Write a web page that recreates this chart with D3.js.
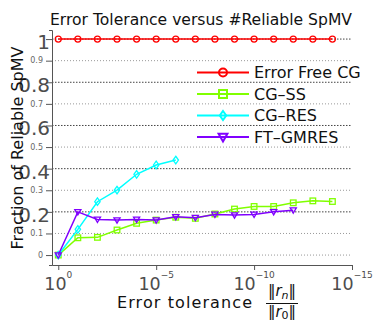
<!DOCTYPE html>
<html><head><meta charset="utf-8">
<script src="https://cdn.jsdelivr.net/npm/d3@7"></script>
<style>
body{margin:0;background:#fff;}
text{font-family:"DejaVu Sans",sans-serif;}
</style></head>
<body><svg id="c" width="373" height="320"></svg>
<script>
const exponents = [0,-1,-2,-3,-4,-5,-6,-7,-8,-9,-10,-11,-12,-13,-14];
const errorFree = [1,1,1,1,1,1,1,1,1,1,1,1,1,1,1];
const cgSS = [0,0.080,0.082,0.116,0.147,0.162,0.175,0.170,0.190,0.213,0.225,0.225,0.242,0.251,0.248];
const cgRES = [0,0.119,0.247,0.301,0.374,0.417,0.440];
const ftGMRES = [0,0.200,0.165,0.162,0.165,0.162,0.177,0.173,0.188,0.185,0.188,0.200,0.208];
const seriesNames = ["Error Free CG","CG–SS","CG–RES","FT–GMRES"];
const xTickExps = [0,-5,-10,-15];
const yMajor = [0.2,0.4,0.6,0.8,1];
const yMinor = [0,0.1,0.3,0.5,0.7,0.9];

const colors = ["#ff0000","#80ff00","#00ffff","#8000ff"];
const shapes = ["circle","square","diamond","triangle"];
const svg = d3.select("#c");
const x = d3.scaleLog().domain([Math.pow(10,0.32),1e-15]).range([52,352]);
const y = d3.scaleLinear().domain([-0.046,1.042]).range([265,30]);

// gridlines
svg.append("g").selectAll("line").data(yMinor).join("line")
  .attr("x1",52).attr("x2",352).attr("y1",d=>y(d)).attr("y2",d=>y(d))
  .attr("stroke","#999").attr("stroke-dasharray","1,2");
svg.append("g").selectAll("line").data(yMajor).join("line")
  .attr("x1",52).attr("x2",352).attr("y1",d=>y(d)).attr("y2",d=>y(d))
  .attr("stroke","#444").attr("stroke-dasharray","1.5,1.5");

// y axis
const yAxis = d3.axisLeft(y).tickValues(yMajor.concat(yMinor).sort()).tickSize(6).tickSizeOuter(3).tickFormat("");
const ya = svg.append("g").attr("transform","translate(52,0)").call(yAxis);
ya.selectAll("path,line").attr("stroke","#555");
svg.append("g").selectAll("text").data(yMajor).join("text")
  .attr("x",50).attr("y",d=>y(d)).attr("dy","0.5em").attr("text-anchor","end")
  .attr("font-size",20).attr("fill","#4d4d4d").text(d=>d3.format("")(d));
svg.append("g").selectAll("text").data(yMinor).join("text")
  .attr("x",43).attr("y",d=>y(d)).attr("dy","0.35em").attr("text-anchor","end")
  .attr("font-size",8).attr("fill","#666").text(d=>d3.format("")(d));

// x axis
const xAxis = d3.axisBottom(x).tickValues(xTickExps.map(e=>Math.pow(10,e))).tickSize(5).tickSizeOuter(0).tickFormat("");
const xa = svg.append("g").attr("transform","translate(0,265)").call(xAxis);
xa.selectAll("path,line").attr("stroke","#555");
const xl = svg.append("g").selectAll("text").data(xTickExps).join("text")
  .attr("x",e=>x(Math.pow(10,e))).attr("y",290).attr("text-anchor","middle").attr("fill","#4d4d4d");
xl.append("tspan").attr("font-size",17.5).text("10");
xl.append("tspan").attr("font-size",9).attr("dy",-12).text(e=>e===0?"0":"−"+(-e));

// shapes
function marker(g, shape, cx, cy, s, color, sw){
  let el;
  if(shape==="circle") el=g.append("circle").attr("cx",cx).attr("cy",cy).attr("r",s);
  else if(shape==="square") el=g.append("rect").attr("x",cx-s).attr("y",cy-s).attr("width",2*s).attr("height",2*s);
  else if(shape==="diamond") el=g.append("path").attr("d",`M${cx},${cy-s*1.4}L${cx+s},${cy}L${cx},${cy+s*1.4}L${cx-s},${cy}Z`);
  else el=g.append("path").attr("d",`M${cx-s*1.1},${cy-s*0.8}L${cx+s*1.1},${cy-s*0.8}L${cx},${cy+s*1.1}Z`);
  el.attr("fill","none").attr("stroke",color).attr("stroke-width",sw);
}

const allSeries = [errorFree,cgSS,cgRES,ftGMRES];
const line = d3.line().x(d=>x(Math.pow(10,d[0]))).y(d=>y(d[1]));
allSeries.forEach((vals,i)=>{
  const pts = vals.map((v,j)=>[exponents[j],v]);
  const g = svg.append("g");
  g.append("path").attr("d",line(pts)).attr("fill","none").attr("stroke",colors[i]).attr("stroke-width",1.5);
  pts.forEach(p=>marker(g,shapes[i],x(Math.pow(10,p[0])),y(p[1]),i===0?3:(i===2?2.7:2.8),colors[i],1.3));
});

// legend
const lg = svg.append("g");
seriesNames.forEach((n,i)=>{
  const cy = 72.5 + i*21.5;
  lg.append("line").attr("x1",197).attr("x2",249).attr("y1",cy).attr("y2",cy).attr("stroke",colors[i]).attr("stroke-width",2);
  marker(lg,shapes[i],223,cy,i===2?3.2:4,colors[i],2);
  lg.append("text").attr("x",254).attr("y",cy).attr("dy","0.36em").attr("font-size",16).attr("fill","#111").text(n);
});

// title
svg.append("text").attr("x",201).attr("y",25).attr("text-anchor","middle").attr("font-size",16)
  .attr("textLength",302).attr("lengthAdjust","spacingAndGlyphs").attr("fill","#111")
  .text("Error Tolerance versus #Reliable SpMV");
// y label
svg.append("text").attr("transform","translate(23,148) rotate(-90)").attr("text-anchor","middle")
  .attr("font-size",16).attr("fill","#111").text("Fraction of Reliable SpMV");
// x label
svg.append("text").attr("x",117).attr("y",308).attr("font-size",16).attr("fill","#111")
  .attr("textLength",135).attr("lengthAdjust","spacing").text("Error tolerance");
const num = svg.append("text").attr("x",282).attr("y",296).attr("text-anchor","middle").attr("font-size",15).attr("fill","#111");
num.append("tspan").text("‖");
num.append("tspan").attr("font-style","italic").text("r");
num.append("tspan").attr("font-size",11).attr("dy",3).attr("font-style","italic").text("n");
num.append("tspan").attr("dy",-3).text("‖");
svg.append("line").attr("x1",266).attr("x2",298).attr("y1",303.5).attr("y2",303.5).attr("stroke","#111").attr("stroke-width",1);
const den = svg.append("text").attr("x",282).attr("y",317).attr("text-anchor","middle").attr("font-size",15).attr("fill","#111");
den.append("tspan").text("‖");
den.append("tspan").attr("font-style","italic").text("r");
den.append("tspan").attr("font-size",11).attr("dy",2).text("0");
den.append("tspan").attr("dy",-2).text("‖");
</script></body></html>
